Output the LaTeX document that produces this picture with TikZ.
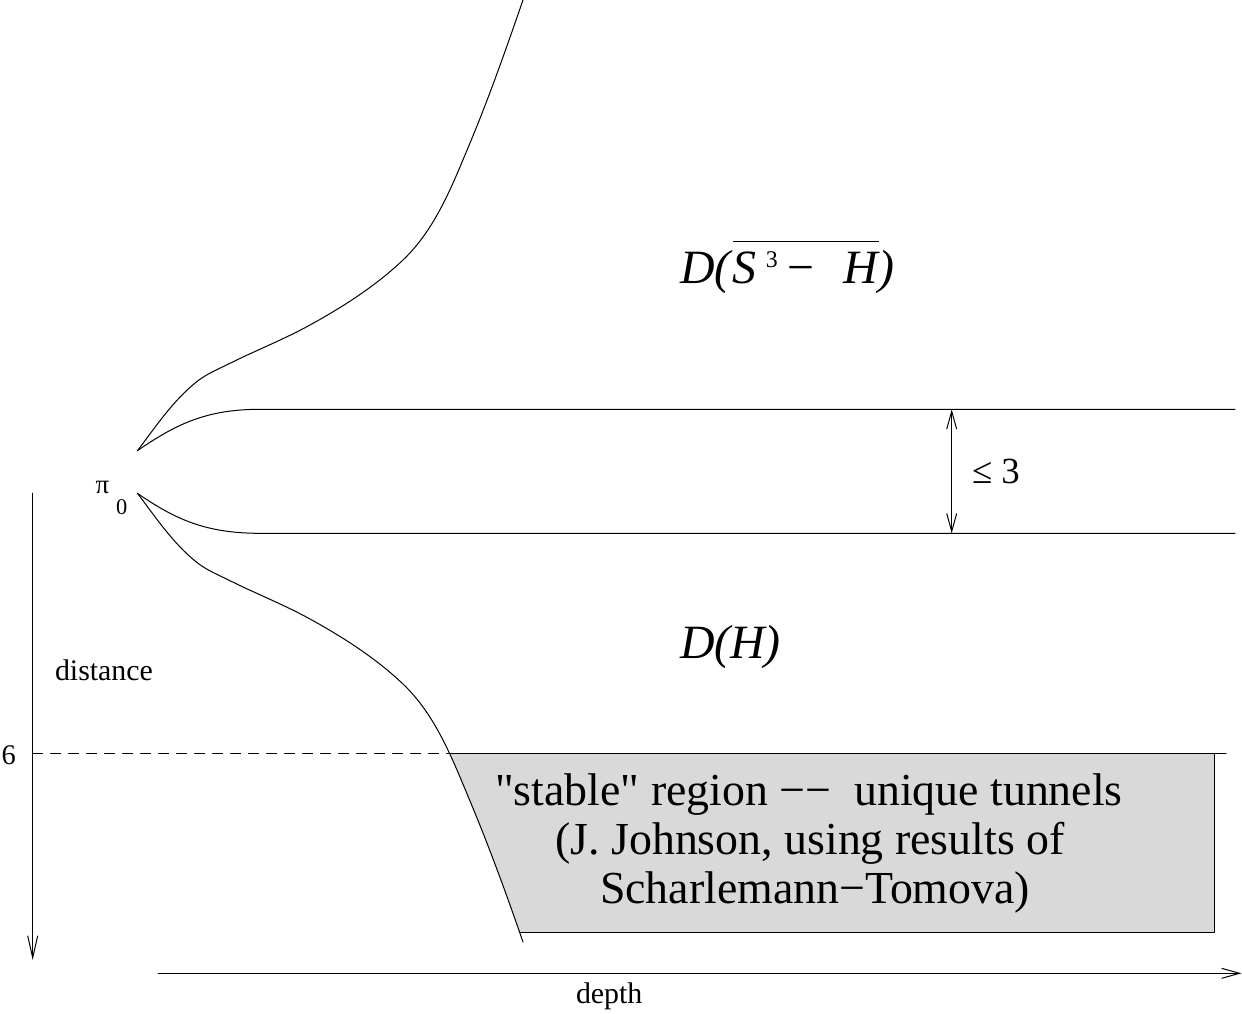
\documentclass[tikz,border=0pt]{standalone}
\usepackage{fontspec}
\setmainfont{Liberation Serif}
% plain family without TeX ligatures, so that " stays a straight quote
\newfontfamily\plainserif{Liberation Serif}
\usetikzlibrary{arrows.meta}
\tikzset{
  vbarb/.tip={Straight Barb[length=18bp,width=10bp]},
  longbarb/.tip={Straight Barb[length=22bp,width=10bp]},
}
\begin{document}
\begin{tikzpicture}[x=1bp,y=-1bp,
  thin line/.style={line width=1bp, black, line cap=round, line join=round},
  lbl/.style={inner sep=0pt, outer sep=0pt, anchor=base west},
  boxtext/.style={inner sep=0pt, outer sep=0pt, anchor=base, font=\plainserif\fontsize{46}{46}\selectfont},
]
\useasboundingbox (0,0) rectangle (1242,1014);

% lower boundary curve, shared by the shading and the outline
\def\lowercurve{(137.5,493.4) .. controls (155.8,517.4) and (173,543.4) .. (196.7,562.3)
  .. controls (206.6,570.2) and (218.6,575) .. (230,580.7)
  .. controls (256.5,593.9) and (284.1,604.7) .. (310,619)
  .. controls (343.1,637.2) and (375.6,658) .. (403,684)
  .. controls (435.6,714.9) and (452.7,759.6) .. (470,801)
  .. controls (489.6,847.9) and (506.4,894) .. (523,942)}

% shaded "stable" region, bounded on the left by the lower curve
\begin{scope}
  \clip (0,753.3) rectangle (1214,932);
  \fill[gray!30] \lowercurve -- (1214,944) -- (1214,480) -- cycle;
\end{scope}

% outer curves
\draw[thin line] (137.5,450.6) .. controls (155.8,426.6) and (173,400.6) .. (196.7,381.7)
  .. controls (206.6,373.8) and (218.6,369) .. (230,363.3)
  .. controls (256.5,350.1) and (284.1,339.3) .. (310,325)
  .. controls (343.1,306.8) and (375.6,286) .. (403,260)
  .. controls (435.6,229.1) and (452.7,184.4) .. (470,143)
  .. controls (489.6,96.1) and (506.4,48) .. (523,0);
\draw[thin line] \lowercurve;

% inner curves flattening into the horizontal band
\coordinate (tipU) at (137.5,450.6);
\coordinate (tipL) at (137.5,493.4);
\coordinate (bandU) at (1235,409.3);
\coordinate (bandL) at (1235,533.3);
\draw[thin line] (tipU) .. controls (175,425) and (205,409.3) .. (260,409.3) -- (bandU);
\draw[thin line] (tipL) .. controls (175,519) and (205,533.3) .. (260,533.3) -- (bandL);

% width of the band
\coordinate (wU) at (951.7,409.3);
\coordinate (wL) at (951.7,533.3);
\draw[thin line, {vbarb}-{vbarb}] (wU) -- (wL);
\node[lbl, font=\fontsize{37}{37}\selectfont] (le) at (972,483.3) {≤ 3};

% edges of the stable region
\coordinate (sNW) at (451,753.3);
\coordinate (sNE) at (1226,753.3);
\coordinate (sE) at (1214,753.3);
\coordinate (sSE) at (1214,932);
\coordinate (sSW) at (520,932);
\draw[thin line] (sNW) -- (sNE);
\draw[thin line] (sE) -- (sSE) -- (sSW);

% axes
\coordinate (vTop) at (32.7,493);
\coordinate (vBot) at (32.7,960);
\coordinate (hL) at (158,973.3);
\coordinate (hR) at (1241.5,973.3);
\draw[thin line, -{longbarb}] (vTop) -- (vBot);
\draw[thin line, -{vbarb}] (hL) -- (hR);
\coordinate (six) at (32.7,753.3);
\draw[thin line, dash pattern=on 10bp off 8bp] (six) -- (sNW);

% labels
\node[lbl, font=\fontsize{28.5}{28.5}\selectfont] (n6) at (1.5,764.3) {6};
\node[lbl, font=\fontsize{30}{30}\selectfont] (dist) at (55,680) {distance};
\node[lbl, font=\fontsize{30}{30}\selectfont] (depth) at (576,1003.3) {depth};
\node[lbl, font=\fontsize{27}{27}\selectfont] (pi) at (95.5,493.3) {π};
\node[lbl, font=\fontsize{22.5}{22.5}\selectfont] (zero) at (116,514) {0};

\node[lbl, font=\fontsize{48}{48}\selectfont] (dsh) at (680,283.3)
  {\textit{D(}\rlap{\raisebox{41.6bp}{\rule{146bp}{1bp}}}\textit{S}\hspace{9bp}\raisebox{16bp}{\fontsize{24}{24}\selectfont 3}\hspace{10bp}−\hspace{29bp}\textit{H)}};
\node[lbl, font=\fontsize{48}{48}\selectfont] (dh) at (680,658) {\textit{D(H)}};

\node[boxtext] (st1) at (809,805) {"stable" region −−\ \ unique tunnels};
\node[boxtext] (st2) at (810,854) {(J. Johnson, using results of};
\node[boxtext] (st3) at (815,903) {Scharlemann−Tomova)};
\end{tikzpicture}
\end{document}
